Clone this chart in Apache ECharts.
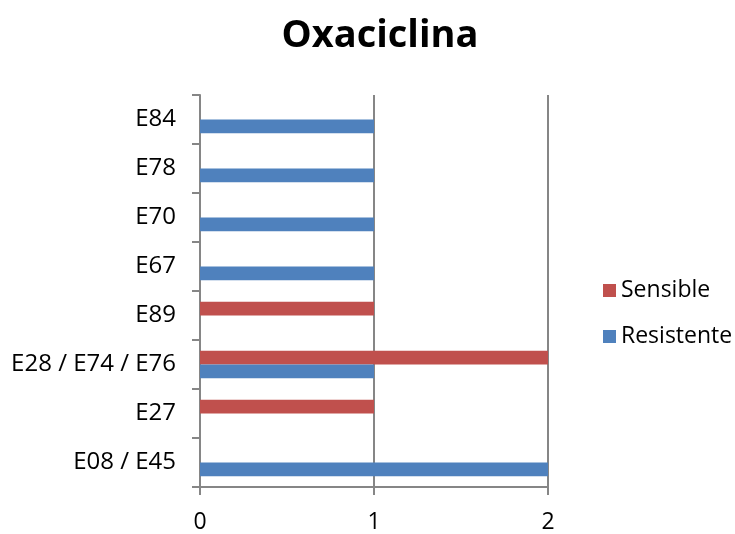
<!DOCTYPE html>
<html>
<head>
<meta charset="utf-8">
<script src="https://cdn.jsdelivr.net/npm/echarts@6/dist/echarts.min.js"></script>
<style>
  html, body { margin: 0; padding: 0; background: #fff; }
  #chart { width: 735px; height: 534px; }
</style>
</head>
<body>
<div id="chart"></div>
<script>
// Strains listed bottom to top along the category axis
const categories = ['E08 / E45', 'E27', 'E28 / E74 / E76', 'E89', 'E67', 'E70', 'E78', 'E84'];
const resistente = [2, 0, 1, 0, 1, 1, 1, 1];
const sensible   = [0, 1, 2, 1, 0, 0, 0, 0];
const xTicks = [0, 1, 2];

const FONT = '"Open Sans", "Liberation Sans", sans-serif';
const AXIS_GRAY = '#868686';

const chart = echarts.init(document.getElementById('chart'));
chart.setOption({
  animation: false,
  textStyle: { fontFamily: FONT },
  title: {
    text: 'Oxaciclina',
    left: 375,
    top: 12,
    textAlign: 'center',
    textStyle: { fontFamily: FONT, fontSize: 38, fontWeight: 'bold', color: '#000' }
  },
  legend: {
    orient: 'vertical',
    left: 598,
    top: 274,
    itemWidth: 13,
    itemHeight: 13,
    itemGap: 23,
    icon: 'rect',
    data: ['Sensible', 'Resistente'],
    textStyle: { fontFamily: FONT, fontSize: 23, color: '#000' }
  },
  grid: { left: 200, right: 187, top: 95, bottom: 46 },
  xAxis: {
    type: 'value',
    min: xTicks[0],
    max: xTicks[xTicks.length - 1],
    interval: 1,
    axisLine: { show: true, lineStyle: { color: AXIS_GRAY, width: 2 } },
    axisTick: { show: true, length: 8, lineStyle: { color: AXIS_GRAY, width: 2 } },
    splitLine: { show: true, lineStyle: { color: AXIS_GRAY, width: 2 } },
    axisLabel: { fontFamily: FONT, fontSize: 23, color: '#000', margin: 24 }
  },
  yAxis: {
    type: 'category',
    data: categories,
    axisLine: { show: true, lineStyle: { color: AXIS_GRAY, width: 2 } },
    axisTick: { show: true, length: 8, lineStyle: { color: AXIS_GRAY, width: 2 } },
    axisLabel: { fontFamily: FONT, fontSize: 24, color: '#000', margin: 24, padding: [4, 0, 0, 0] }
  },
  // The series listed first sits at the top of each band
  series: [
    {
      name: 'Sensible',
      type: 'bar',
      data: sensible,
      itemStyle: { color: '#C0504D' },
      barGap: '0%',
      barCategoryGap: '44%'
    },
    {
      name: 'Resistente',
      type: 'bar',
      data: resistente,
      itemStyle: { color: '#4F81BD' },
      barGap: '0%',
      barCategoryGap: '44%'
    }
  ]
});
</script>
</body>
</html>
